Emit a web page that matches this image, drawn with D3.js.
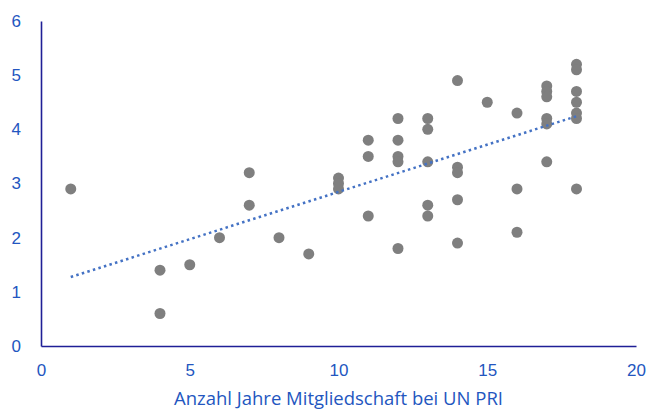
<!DOCTYPE html>
<meta charset="utf-8">
<style>
body { margin: 0; background: #fff; }
svg { font-family: "Open Sans", "Noto Sans", sans-serif; }
</style>
<body>
<script src="https://cdn.jsdelivr.net/npm/d3@7"></script>
<script>

// Jahre Mitgliedschaft (x) und Wert (y) je Beobachtung
var years = [1, 4, 4, 5, 6, 7, 7, 8, 9,
  10, 10, 10, 11, 11, 11,
  12, 12, 12, 12, 12,
  13, 13, 13, 13, 13,
  14, 14, 14, 14, 14,
  15, 16, 16, 16,
  17, 17, 17, 17, 17, 17,
  18, 18, 18, 18, 18, 18, 18];
var scores = [2.9, 1.4, 0.6, 1.5, 2.0, 3.2, 2.6, 2.0, 1.7,
  3.1, 3.0, 2.9, 3.8, 3.5, 2.4,
  4.2, 3.8, 3.5, 3.4, 1.8,
  4.2, 4.0, 3.4, 2.6, 2.4,
  4.9, 3.3, 3.2, 2.7, 1.9,
  4.5, 4.3, 2.9, 2.1,
  4.8, 4.7, 4.6, 4.2, 4.1, 3.4,
  5.2, 5.1, 4.7, 4.5, 4.3, 4.2, 2.9];
var xTicks = [0, 5, 10, 15, 20];
var yTicks = [0, 1, 2, 3, 4, 5, 6];
var xTitle = "Anzahl Jahre Mitgliedschaft bei UN PRI";

var margin = {top: 21, right: 14, bottom: 66, left: 41},
    width = 650 - margin.left - margin.right,
    height = 412 - margin.top - margin.bottom;

var axisColor = "#1f1f96",
    textColor = "#2356c0";

var svg = d3.select("body").append("svg")
    .attr("width", 650)
    .attr("height", 412);

var g = svg.append("g")
    .attr("transform", "translate(" + margin.left + "," + margin.top + ")");

var x = d3.scaleLinear().domain([0, 20]).range([0, width]);
var y = d3.scaleLinear().domain([0, 6]).range([height, 0]);

var points = years.map(function(d, i) { return {x: d, y: scores[i]}; });

// linear trend (least squares)
var mx = d3.mean(points, function(d) { return d.x; }),
    my = d3.mean(points, function(d) { return d.y; });
var sxy = d3.sum(points, function(d) { return (d.x - mx) * (d.y - my); }),
    sxx = d3.sum(points, function(d) { return (d.x - mx) * (d.x - mx); });
var slope = sxy / sxx, icpt = my - slope * mx;
var xr = d3.extent(years);

// axes
var xAxis = g.append("g")
    .attr("transform", "translate(0," + height + ")")
    .call(d3.axisBottom(x).tickValues(xTicks).tickFormat(d3.format("d"))
      .tickSize(0).tickPadding(18));
var yAxis = g.append("g")
    .call(d3.axisLeft(y).tickValues(yTicks).tickFormat(d3.format("d"))
      .tickSize(0).tickPadding(20));

[xAxis, yAxis].forEach(function(a) {
  a.select(".domain").attr("stroke", axisColor).attr("stroke-width", 1.6);
  a.selectAll("text").attr("fill", textColor).style("font-size", "17px");
});

// points
g.selectAll("circle")
  .data(points)
  .enter().append("circle")
    .attr("cx", function(d) { return x(d.x); })
    .attr("cy", function(d) { return y(d.y); })
    .attr("r", 5.5)
    .attr("fill", "#7f7f7f");

// trend line
g.append("line")
    .attr("x1", x(xr[0])).attr("y1", y(icpt + slope * xr[0]))
    .attr("x2", x(xr[1])).attr("y2", y(icpt + slope * xr[1]))
    .attr("stroke", "#4472c4")
    .attr("stroke-width", 2.5)
    .attr("stroke-dasharray", "2.5,3.3");

svg.append("text")
    .attr("x", margin.left + width / 2)
    .attr("y", 405)
    .attr("text-anchor", "middle")
    .attr("fill", textColor)
    .attr("textLength", 329)
    .attr("lengthAdjust", "spacingAndGlyphs")
    .style("font-size", "17.5px")
    .text(xTitle);

</script>
</body>
